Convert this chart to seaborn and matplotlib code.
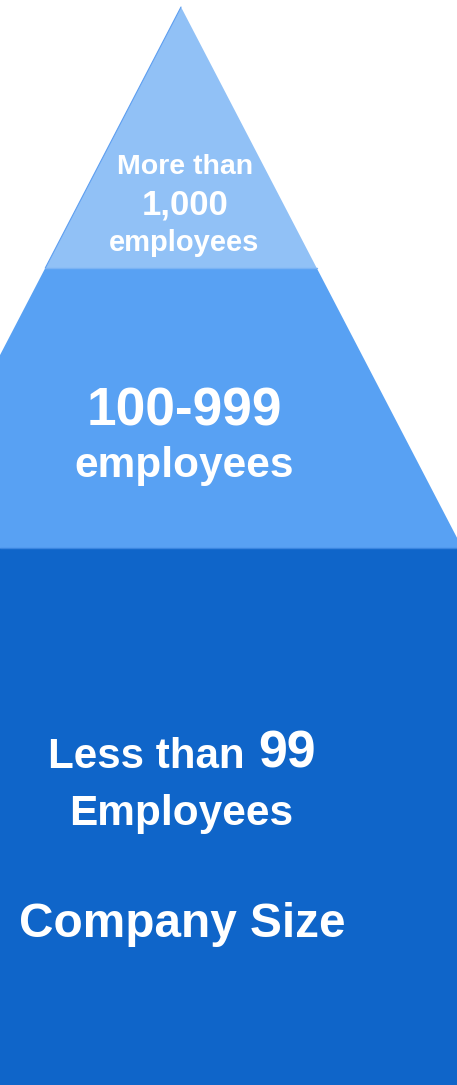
import matplotlib
matplotlib.use("Agg")
import matplotlib.pyplot as plt
import seaborn as sns

# Company-size tiers, from the top of the pyramid down
tier_names = ["More than 1,000 employees", "100-999 employees", "Less than 99 Employees"]
tier_colors = ["#91c1f6", "#58a1f3", "#0f65c9"]
chart_title = "Company Size"

sns.set_theme(style="white")
plt.rcParams["font.family"] = ["Liberation Sans", "DejaVu Sans"]

W, H = 457, 1085
fig = plt.figure(figsize=(W / 100, H / 100), dpi=100)
ax = fig.add_axes([0, 0, 1, 1])
ax.set_xlim(0, W)
ax.set_ylim(H, 0)
ax.set_axis_off()

# pyramid geometry (pixel space of the canvas)
apex_x, apex_y = 181.0, 7.0
slope = 0.52          # half-width gained per pixel downward
cut1, cut2 = 268.0, 548.0


def half(y):
    return slope * (y - apex_y)


# top tier: the tip of the triangle
ax.fill([apex_x, apex_x - half(cut1), apex_x + half(cut1)],
        [apex_y, cut1, cut1], color=tier_colors[0], lw=0, zorder=1)
ax.plot([apex_x, apex_x - half(cut1)], [apex_y, cut1], color="#5d9ef0", lw=0.8, zorder=2)

# middle tier: trapezoid, runs off the canvas edges
ax.fill([apex_x - half(cut1), apex_x + half(cut1), apex_x + half(cut2), apex_x - half(cut2)],
        [cut1, cut1, cut2, cut2], color=tier_colors[1], lw=0, zorder=1)
ax.plot([apex_x - half(cut1), apex_x + half(cut1)], [cut1, cut1], color="#7bb3f4", lw=1.0, zorder=2)

# bottom tier: full-width block
ax.fill([0, W, W, 0], [cut2, cut2, H, H], color=tier_colors[2], lw=0, zorder=1)
ax.plot([0, W], [cut2, cut2], color="#3b86e0", lw=1.0, zorder=2)

txt = dict(color="white", fontweight="bold", ha="center", va="baseline", zorder=3)

# top tier label
ax.text(185, 174, "More than", fontsize=20.5, **txt)
ax.text(185, 215, "1,000", fontsize=25, **txt)
ax.text(184, 251, "employees", fontsize=21, **txt)

# middle tier label
ax.text(184, 425, "100-999", fontsize=38.3, **txt)
ax.text(184, 477, "employees", fontsize=30.5, **txt)

# bottom tier label
ax.text(245, 768, "Less than", fontsize=30.3, color="white", fontweight="bold",
        ha="right", va="baseline", zorder=3)
ax.text(258, 768, "99", fontsize=37.3, color="white", fontweight="bold",
        ha="left", va="baseline", zorder=3)
ax.text(181.5, 825, "Employees", fontsize=30.5, **txt)

ax.text(182, 937, chart_title, fontsize=34.4, **txt)

fig.savefig("out.png", dpi=100)
